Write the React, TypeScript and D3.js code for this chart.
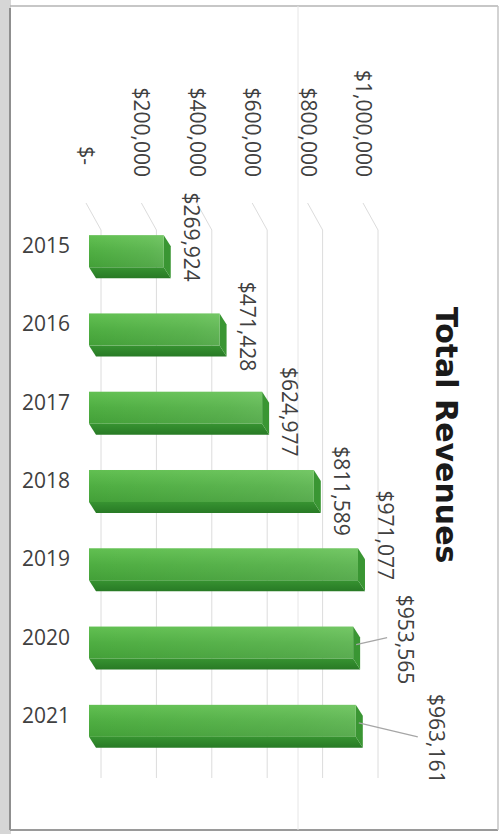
import React from "react";
import * as d3 from "d3";

const years = ["2015", "2016", "2017", "2018", "2019", "2020", "2021"];
const revenues = [269924, 471428, 624977, 811589, 971077, 953565, 963161];
const tickValues = [0, 200000, 400000, 600000, 800000, 1000000];
const title = "Total Revenues";

// layout nudges for data labels (px), not data
const labelDx = [28, 28, 28, 28, 28, 53, 81];
const labelDy = [2, 13, 20, 21, -13, 13, 34];

const W = 503;
const H = 834;
const DX = 7;
const DY = 11;

const fmtVal = d3.format("$,.0f");
const fmtTick = (v: number) => (v === 0 ? "$-" : d3.format("$,.0f")(v));

export default function App() {
  const x = d3.scaleLinear().domain([0, 1000000]).range([89, 366]);
  const y = d3
    .scaleBand<string>()
    .domain(years)
    .range([196, 776])
    .paddingInner(0.591)
    .paddingOuter(0.5);
  const bh = y.bandwidth();

  const gridTop = 203;
  const gridKnee = 230;
  const gridBottom = 778;
  const font = "'Open Sans', sans-serif";

  return (
    <svg
      width={W}
      height={H}
      style={{ position: "absolute", left: 0, top: 0, background: "#fff" }}
    >
      <defs>
        <linearGradient id="front" x1="0" y1="0" x2="0" y2="1">
          <stop offset="0" stopColor="#62c052" />
          <stop offset="0.5" stopColor="#4fae42" />
          <stop offset="1" stopColor="#43a038" />
        </linearGradient>
        <linearGradient id="frontH" x1="0" y1="0" x2="1" y2="0">
          <stop offset="0" stopColor="#ffffff" stopOpacity="0" />
          <stop offset="0.8" stopColor="#ffffff" stopOpacity="0.08" />
          <stop offset="1" stopColor="#ffffff" stopOpacity="0.12" />
        </linearGradient>
        <linearGradient id="bottom" x1="0" y1="0" x2="0" y2="1">
          <stop offset="0" stopColor="#379331" />
          <stop offset="1" stopColor="#287a25" />
        </linearGradient>
      </defs>

      {/* page frame */}
      <rect x={0} y={0} width={11} height={H} fill="#d6d6d6" />
      <line x1={10} y1={8} x2={10} y2={830} stroke="#8f8f8f" strokeWidth={2} />
      <line x1={10} y1={6} x2={498} y2={6} stroke="#b5b5b5" strokeWidth={1.5} />
      <line x1={10} y1={830} x2={498} y2={830} stroke="#9a9a9a" strokeWidth={2} />
      <line x1={498} y1={6} x2={498} y2={830} stroke="#c4c4c4" strokeWidth={1.5} />
      <line x1={298} y1={6} x2={298} y2={830} stroke="#e6e6e6" strokeWidth={1} />

      {/* gridlines */}
      {tickValues.map((v) => {
        const xs = x(v);
        return (
          <path
            key={"g" + v}
            d={`M${xs - 3},${gridTop} L${xs + 12},${gridKnee} L${xs + 12},${gridBottom}`}
            fill="none"
            stroke="#dcdcdc"
            strokeWidth={1}
          />
        );
      })}

      {/* tick labels */}
      {tickValues.map((v) => (
        <text
          key={"t" + v}
          transform={`translate(${x(v) - 2},${v === 0 ? 165 : 177}) rotate(90)`}
          textAnchor="end"
          dominantBaseline="central"
          fontFamily={font}
          fontSize={21}
          fill="#404040"
        >
          {fmtTick(v)}
        </text>
      ))}

      {/* bars */}
      {years.map((yr, i) => {
        const v = revenues[i];
        const x0 = x(0);
        const x1 = x(v);
        const y0 = y(yr)!;
        const y1 = y0 + bh;
        return (
          <g key={"b" + yr}>
            <polygon
              points={`${x0},${y1} ${x1},${y1} ${x1 + DX},${y1 + DY} ${x0 + DX},${y1 + DY}`}
              fill="url(#bottom)"
            />
            <polygon
              points={`${x1},${y0} ${x1 + DX},${y0 + DY} ${x1 + DX},${y1 + DY} ${x1},${y1}`}
              fill="#3a9633"
            />
            <rect x={x0} y={y0} width={x1 - x0} height={bh} fill="url(#front)" />
            <rect x={x0} y={y0} width={x1 - x0} height={bh} fill="url(#frontH)" />
          </g>
        );
      })}

      {/* year labels */}
      {years.map((yr) => (
        <text
          key={"y" + yr}
          x={70}
          y={y(yr)! + 10}
          textAnchor="end"
          dominantBaseline="central"
          fontFamily={font}
          fontSize={21}
          fill="#404040"
        >
          {yr}
        </text>
      ))}

      {/* leader lines */}
      {years.map((yr, i) => {
        if (labelDx[i] <= 30) return null;
        const v = revenues[i];
        const lx = x(v) + labelDx[i] - 19;
        const ly = y(yr)! + labelDy[i] - 2;
        return (
          <line
            key={"l" + yr}
            x1={x(v) + 3}
            y1={y(yr)! + 18}
            x2={lx}
            y2={ly}
            stroke="#a6a6a6"
            strokeWidth={1.2}
          />
        );
      })}

      {/* data labels */}
      {years.map((yr, i) => (
        <text
          key={"d" + yr}
          transform={`translate(${x(revenues[i]) + labelDx[i]},${y(yr)! + labelDy[i]}) rotate(90)`}
          textAnchor="middle"
          dominantBaseline="central"
          fontFamily={font}
          fontSize={21}
          fill="#404040"
        >
          {fmtVal(revenues[i])}
        </text>
      ))}

      {/* title */}
      <text
        transform={`translate(446,435) rotate(90)`}
        textAnchor="middle"
        dominantBaseline="central"
        fontFamily="'DejaVu Sans', sans-serif"
        fontWeight="bold"
        fontSize={30}
        fill="#1a1a1a"
      >
        {title}
      </text>
    </svg>
  );
}
